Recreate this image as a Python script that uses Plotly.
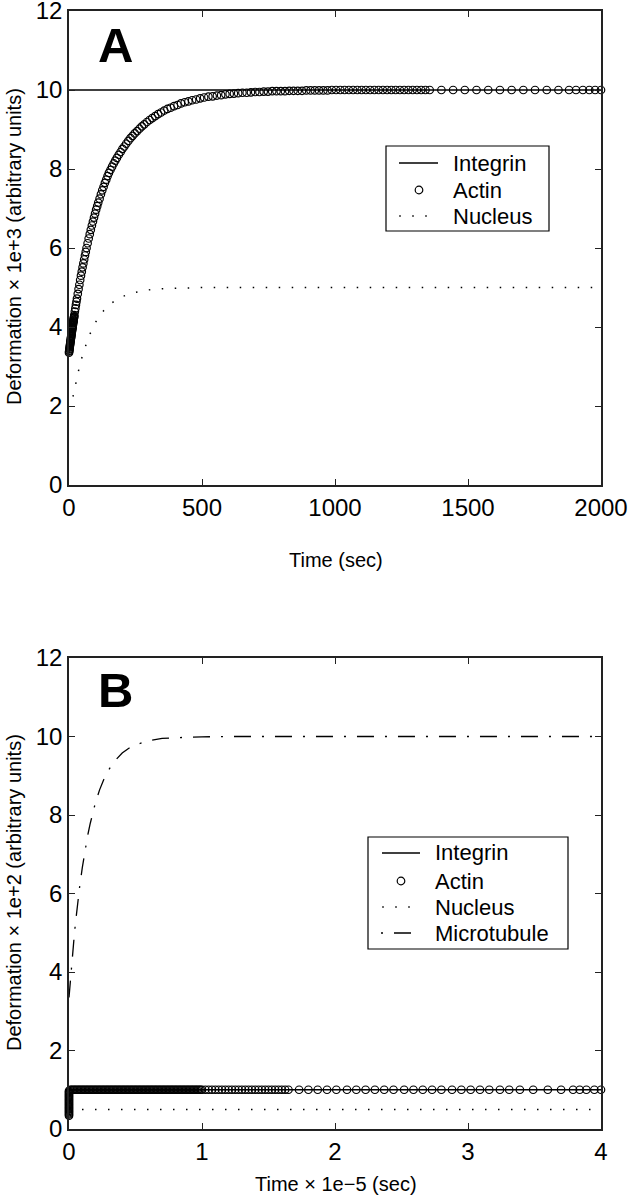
import plotly.graph_objects as go

# ---------------- Panel A data (time in sec, deformation x 1e+3) ----------------
integrin_a_t = [0, 2000]
integrin_a_v = [10, 10]

actin_a_t = [0, 0.5, 1, 1.5, 2, 2.5, 3, 3.5, 4, 4.5, 5, 5.5, 6, 6.5, 7, 7.5, 8, 8.5, 9, 9.5,
             10, 10.5, 11, 11.5, 12, 12.5, 13, 13.5, 14, 14.5, 15, 15.5, 16, 16.5, 17, 17.5,
             18, 18.5, 19, 19.5, 20, 22, 24, 26, 28, 30, 33, 36, 39, 42, 45, 48, 51, 54, 57,
             60, 63, 66, 70, 74, 78, 82, 86, 90, 94, 98, 102, 106, 110, 115, 120, 125, 130,
             135, 140, 145, 150, 156, 162, 168, 174, 180, 187, 194, 201, 208, 215, 223, 231,
             239, 247, 256, 265, 274, 283, 293, 303, 313, 324, 335, 346, 358, 370, 382, 395,
             408, 421, 435, 449, 463, 478, 493, 508, 524, 540, 556, 572, 588, 604, 620, 636,
             652, 668, 684, 700, 716, 732, 748, 764, 780, 796, 812, 828, 844, 860, 876, 892,
             908, 924, 940, 956, 972, 988, 1004, 1020, 1036, 1052, 1068, 1084, 1100, 1116,
             1132, 1148, 1164, 1180, 1196, 1212, 1228, 1244, 1260, 1276, 1292, 1308, 1324,
             1340, 1356, 1400, 1444, 1488, 1532, 1576, 1620, 1664, 1708, 1752, 1796, 1840,
             1880, 1906, 1932, 1956, 1978, 2000]
actin_a_v = [3.35, 3.38, 3.40, 3.43, 3.45, 3.48, 3.50, 3.53, 3.55, 3.58, 3.60, 3.63, 3.65,
             3.67, 3.70, 3.72, 3.75, 3.77, 3.79, 3.82, 3.84, 3.87, 3.89, 3.91, 3.94, 3.96,
             3.98, 4.00, 4.03, 4.05, 4.07, 4.10, 4.12, 4.14, 4.16, 4.18, 4.21, 4.23, 4.25,
             4.27, 4.30, 4.39, 4.47, 4.56, 4.64, 4.72, 4.84, 4.96, 5.07, 5.19, 5.30, 5.40,
             5.51, 5.61, 5.71, 5.81, 5.90, 6.00, 6.12, 6.24, 6.35, 6.46, 6.57, 6.67, 6.77,
             6.87, 6.97, 7.06, 7.15, 7.25, 7.36, 7.46, 7.55, 7.65, 7.73, 7.82, 7.90,
             7.98, 8.06, 8.14, 8.21, 8.28, 8.36, 8.43, 8.51, 8.57, 8.64, 8.71, 8.78, 8.84,
             8.90, 8.96, 9.02, 9.08, 9.13, 9.19, 9.24, 9.29, 9.34, 9.39, 9.43, 9.48, 9.52,
             9.55, 9.59, 9.62, 9.66, 9.69, 9.71, 9.74, 9.76, 9.79, 9.81, 9.83, 9.84, 9.86,
             9.87, 9.89, 9.90, 9.91, 9.92, 9.93, 9.93, 9.94, 9.95, 9.95, 9.96, 9.96, 9.97,
             9.97, 9.97, 9.97, 9.98, 9.98, 9.98, 9.98, 9.99, 9.99, 9.99, 9.99, 9.99,
             9.99] + [10.0] * 41
assert len(actin_a_t) == len(actin_a_v)

nucleus_a_t = [15, 20, 25, 30, 35, 40, 45, 50, 60, 70, 80, 90, 100, 115, 130, 150, 175, 200,
               225, 250, 300, 350, 400, 500, 2000]
nucleus_a_v = [2.24, 2.41, 2.58, 2.74, 2.89, 3.02, 3.15, 3.27, 3.49, 3.68, 3.84, 3.99, 4.12,
               4.28, 4.41, 4.55, 4.68, 4.77, 4.83, 4.88, 4.94, 4.97, 4.98, 5.00, 5.00]

# ---------------- Panel B data (time x 1e-5 sec, deformation x 1e+2) ----------------
integrin_b_t = [0, 4]
integrin_b_v = [1, 1]

actin_b_t = [0.0] * 22 + [
    0.01, 0.02, 0.03, 0.04, 0.05, 0.06, 0.07, 0.08, 0.09, 0.10,
    0.11, 0.12, 0.13, 0.14, 0.15, 0.16, 0.17, 0.18, 0.19, 0.20,
    0.21, 0.22, 0.23, 0.24, 0.25, 0.26, 0.27, 0.28, 0.29, 0.30,
    0.31, 0.32, 0.33, 0.34, 0.35, 0.36, 0.37, 0.38, 0.39, 0.40,
    0.41, 0.42, 0.43, 0.44, 0.45, 0.46, 0.47, 0.48, 0.49, 0.50,
    0.51, 0.52, 0.53, 0.54, 0.55, 0.56, 0.57, 0.58, 0.59, 0.60,
    0.61, 0.62, 0.63, 0.64, 0.65, 0.66, 0.67, 0.68, 0.69, 0.70,
    0.71, 0.72, 0.73, 0.74, 0.75, 0.76, 0.77, 0.78, 0.79, 0.80,
    0.81, 0.82, 0.83, 0.84, 0.85, 0.86, 0.87, 0.88, 0.89, 0.90,
    0.91, 0.92, 0.93, 0.94, 0.95, 0.96, 0.97, 0.98, 0.99, 1.00,
    1.025, 1.05, 1.075, 1.10, 1.125, 1.15, 1.175, 1.20, 1.225, 1.25,
    1.275, 1.30, 1.325, 1.35, 1.375, 1.40, 1.425, 1.45, 1.475, 1.50,
    1.525, 1.55, 1.575, 1.60, 1.625, 1.65,
    1.73, 1.80, 1.87, 1.94, 2.01, 2.09, 2.16, 2.23, 2.30, 2.37, 2.44, 2.52,
    2.59, 2.66, 2.73, 2.80, 2.88, 2.95, 3.02, 3.09, 3.16, 3.24, 3.31, 3.39,
    3.49, 3.60, 3.70, 3.79, 3.84, 3.89, 3.95, 4.00]
actin_b_v = [0.34, 0.37, 0.40, 0.43, 0.46, 0.49, 0.52, 0.55, 0.58, 0.61, 0.64, 0.67,
             0.70, 0.73, 0.76, 0.79, 0.82, 0.85, 0.88, 0.91, 0.94, 0.97] + [1.0] * 158
assert len(actin_b_t) == len(actin_b_v)

nucleus_b_t = [0, 4]
nucleus_b_v = [0.5, 0.5]

micro_b_t = [0, 0.005, 0.01, 0.02, 0.03, 0.04, 0.05, 0.06, 0.08, 0.1, 0.12, 0.14, 0.16,
             0.18, 0.2, 0.23, 0.26, 0.3, 0.35, 0.4, 0.45, 0.5, 0.6, 0.7, 0.8, 1.0, 1.2, 4.0]
micro_b_v = [3.35, 3.58, 3.79, 4.21, 4.59, 4.95, 5.29, 5.60, 6.17, 6.66, 7.09, 7.47, 7.79,
             8.08, 8.33, 8.64, 8.89, 9.16, 9.40, 9.58, 9.70, 9.79, 9.89, 9.95, 9.97, 9.99,
             10.0, 10.0]

x_ticks_a = [0, 500, 1000, 1500, 2000]
x_ticks_b = [0, 1, 2, 3, 4]
y_ticks = [0, 2, 4, 6, 8, 10, 12]

legend_a_names = ["Integrin", "Actin", "Nucleus"]
legend_b_names = ["Integrin", "Actin", "Nucleus", "Microtubule"]

FONT = "Liberation Sans, Arial, Helvetica, sans-serif"
INK = "black"
DOT = "1.5px,11.5px"
DASHDOT = "17px,11px,2px,11px"
MARKER = dict(symbol="circle-open", size=7.5, color=INK, line=dict(width=1.2, color=INK))

W, H, L, R, T, B = 633, 1199, 69, 32, 11, 70
plot_w = W - L - R
plot_h = H - T - B
def px(p):  # pixel column -> paper x
    return (p - L) / plot_w
def py(p):  # pixel row -> paper y
    return (H - B - p) / plot_h

fig = go.Figure()

# Panel A traces
fig.add_trace(go.Scatter(x=integrin_a_t, y=integrin_a_v, mode="lines", name="Integrin",
                         line=dict(color=INK, width=1.3), xaxis="x", yaxis="y",
                         cliponaxis=False))
fig.add_trace(go.Scatter(x=actin_a_t, y=actin_a_v, mode="markers", name="Actin",
                         marker=MARKER, xaxis="x", yaxis="y", cliponaxis=False))
fig.add_trace(go.Scatter(x=nucleus_a_t, y=nucleus_a_v, mode="lines", name="Nucleus",
                         line=dict(color=INK, width=1.5, dash=DOT), xaxis="x", yaxis="y",
                         cliponaxis=False))

# Panel B traces
fig.add_trace(go.Scatter(x=integrin_b_t, y=integrin_b_v, mode="lines", name="Integrin",
                         line=dict(color=INK, width=1.3), xaxis="x2", yaxis="y2",
                         cliponaxis=False))
fig.add_trace(go.Scatter(x=actin_b_t, y=actin_b_v, mode="markers", name="Actin",
                         marker=MARKER, xaxis="x2", yaxis="y2", cliponaxis=False))
fig.add_trace(go.Scatter(x=nucleus_b_t, y=nucleus_b_v, mode="lines", name="Nucleus",
                         line=dict(color=INK, width=1.5, dash=DOT), xaxis="x2", yaxis="y2",
                         cliponaxis=False))
fig.add_trace(go.Scatter(x=micro_b_t, y=micro_b_v, mode="lines", name="Microtubule",
                         line=dict(color=INK, width=1.3, dash=DASHDOT), xaxis="x2", yaxis="y2",
                         cliponaxis=False))

axis_common = dict(showline=True, linecolor="#222", linewidth=1.5, mirror="ticks",
                   ticks="inside", ticklen=6, tickwidth=1.2, tickcolor="#222",
                   showgrid=False, zeroline=False, automargin=False,
                   ticklabeloverflow="allow",
                   tickfont=dict(family=FONT, size=24, color=INK))

fig.update_layout(
    width=W, height=H,
    margin=dict(l=L, r=R, t=T, b=B, autoexpand=False),
    paper_bgcolor="white", plot_bgcolor="white",
    font=dict(family=FONT, color=INK),
    xaxis=dict(domain=[0, 1], range=[0, 2000], tickvals=x_ticks_a, anchor="y", **axis_common),
    yaxis=dict(domain=[py(485), 1], range=[0, 12], tickvals=y_ticks, anchor="x", **axis_common),
    xaxis2=dict(domain=[0, 1], range=[0, 4], tickvals=x_ticks_b, anchor="y2", **axis_common),
    yaxis2=dict(domain=[0, py(658)], range=[0, 12], tickvals=y_ticks, anchor="x2", **axis_common),
    showlegend=False,
)

# ---------------- legends (boxed, drawn in pixel positions) ----------------
def hline(x0, x1, y, dash="solid", width=1.3):
    fig.add_shape(type="line", xref="paper", yref="paper",
                  x0=px(x0), x1=px(x1), y0=py(y), y1=py(y),
                  line=dict(color=INK, width=width, dash=dash))

def circle(cx, cy, r=3.8):
    fig.add_shape(type="circle", xref="paper", yref="paper",
                  x0=px(cx - r), x1=px(cx + r), y0=py(cy + r), y1=py(cy - r),
                  line=dict(color=INK, width=1.2), fillcolor="rgba(0,0,0,0)")

def box(x0, x1, y0, y1):
    fig.add_shape(type="rect", xref="paper", yref="paper",
                  x0=px(x0), x1=px(x1), y0=py(y1), y1=py(y0),
                  line=dict(color=INK, width=1.2), fillcolor="white", layer="above")

def label(text, x, y):
    fig.add_annotation(text=text, xref="paper", yref="paper", x=px(x), y=py(y),
                       xanchor="left", yanchor="middle", showarrow=False,
                       font=dict(family=FONT, size=22, color=INK))

# Legend A
box(386, 549, 146, 231)
rows_a = [163, 190, 216]
hline(399, 438, rows_a[0])
circle(419, rows_a[1])
hline(399.25, 428, rows_a[2], dash=DOT, width=1.5)
for name, yy in zip(legend_a_names, rows_a):
    label(name, 451, yy)

# Legend B
box(368, 568, 837, 949)
rows_b = [853, 881, 907, 933]
hline(382, 420, rows_b[0])
circle(401, rows_b[1])
hline(382.25, 410, rows_b[2], dash=DOT, width=1.5)
hline(381, 412, rows_b[3], dash="2px,11px,17px,11px", width=1.3)
for name, yy in zip(legend_b_names, rows_b):
    label(name, 433, yy)

# ---------------- panel letters and axis titles ----------------
for txt, xx, yy in [("<b>A</b>", 115, 45), ("<b>B</b>", 115, 690)]:
    fig.add_annotation(text=txt, xref="paper", yref="paper", x=px(xx), y=py(yy),
                       showarrow=False, xanchor="center", yanchor="middle",
                       font=dict(family=FONT, size=49, color=INK))

titles = [
    ("Time (sec)", 336, 560, 0),
    ("Time × 1e−5 (sec)", 336, 1184, 0),
    ("Deformation × 1e+3 (arbitrary units)", 14, 247, -90),
    ("Deformation × 1e+2 (arbitrary units)", 14, 893, -90),
]
for txt, xx, yy, ang in titles:
    fig.add_annotation(text=txt, xref="paper", yref="paper", x=px(xx), y=py(yy),
                       showarrow=False, xanchor="center", yanchor="middle", textangle=ang,
                       font=dict(family=FONT, size=20, color=INK))

fig.write_html("out.html", config={"displayModeBar": False},
               post_script="document.body.style.margin='0px';document.body.style.overflow='hidden';")
